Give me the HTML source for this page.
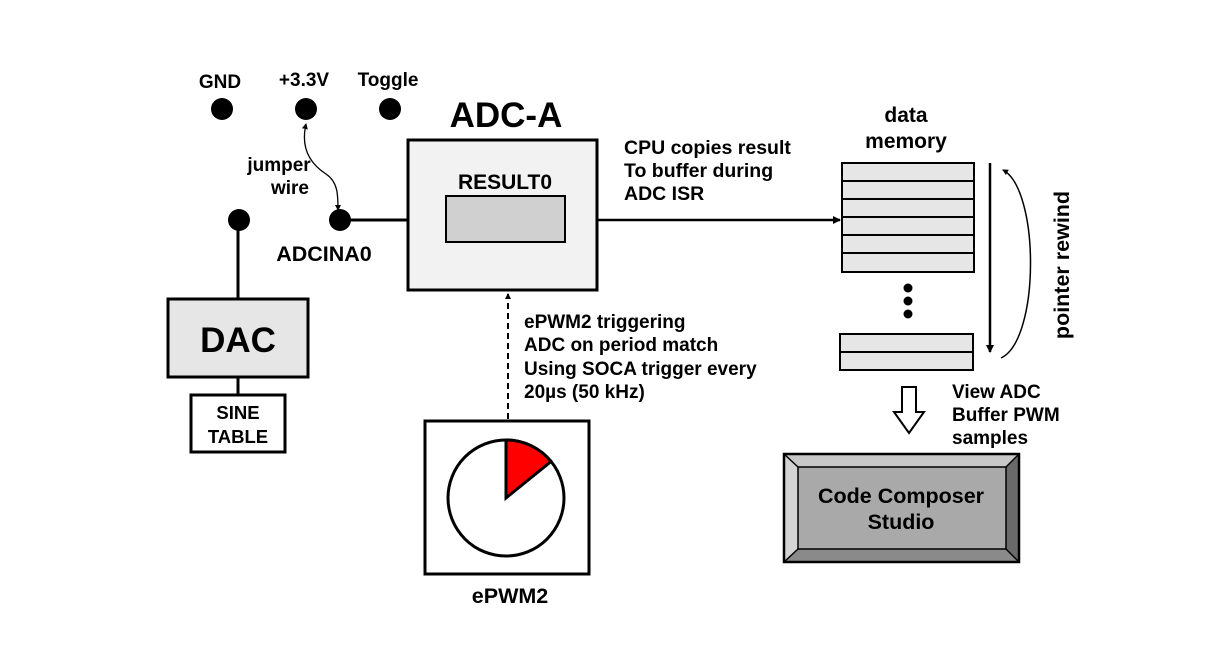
<!DOCTYPE html>
<html><head><meta charset="utf-8"><style>
html,body{margin:0;padding:0;background:#fff;}
svg{display:block;font-family:"Liberation Sans",Arial,sans-serif;font-weight:bold;}
</style></head><body>
<svg width="1227" height="651" viewBox="0 0 1227 651" xmlns="http://www.w3.org/2000/svg">
<defs>
<marker id="ah" markerWidth="8" markerHeight="8" refX="7" refY="4" orient="auto" markerUnits="userSpaceOnUse"><path d="M0,0 L8,4 L0,8 Z" fill="#000"/></marker>
<marker id="ahs" markerWidth="6" markerHeight="6" refX="5" refY="3" orient="auto-start-reverse" markerUnits="userSpaceOnUse"><path d="M0,0 L6,3 L0,6 Z" fill="#000"/></marker>
</defs>
<g font-size="19" text-anchor="middle">
<text x="220" y="88">GND</text>
<text x="304" y="86">+3.3V</text>
<text x="388" y="86">Toggle</text>
</g>
<circle cx="222" cy="109" r="11" fill="#000"/>
<circle cx="306" cy="109" r="11" fill="#000"/>
<circle cx="390" cy="109" r="11" fill="#000"/>
<path d="M306,124 C300,150 312,165 326,174 C338,182 338,195 338,210" fill="none" stroke="#000" stroke-width="1.3" marker-start="url(#ahs)" marker-end="url(#ahs)"/>
<text x="279" y="171" font-size="19" text-anchor="middle">jumper</text>
<text x="290" y="194" font-size="19" text-anchor="middle">wire</text>
<circle cx="239" cy="220" r="11" fill="#000"/>
<circle cx="340" cy="220" r="11" fill="#000"/>
<line x1="340" y1="220" x2="408" y2="220" stroke="#000" stroke-width="3"/>
<text x="324" y="261" font-size="21.5" text-anchor="middle">ADCINA0</text>
<line x1="238" y1="220" x2="238" y2="299" stroke="#000" stroke-width="3"/>
<rect x="168" y="299" width="140" height="78" fill="#e6e6e6" stroke="#000" stroke-width="3"/>
<text x="238" y="352" font-size="35" text-anchor="middle">DAC</text>
<line x1="238" y1="377" x2="238" y2="395" stroke="#000" stroke-width="3"/>
<rect x="191" y="395" width="94" height="57" fill="#fff" stroke="#000" stroke-width="3"/>
<text x="238" y="419" font-size="18.5" text-anchor="middle">SINE</text>
<text x="238" y="443" font-size="18.5" text-anchor="middle">TABLE</text>
<text x="506" y="127" font-size="35" text-anchor="middle">ADC-A</text>
<rect x="408" y="140" width="189" height="150" fill="#f2f2f2" stroke="#000" stroke-width="3"/>
<text x="505" y="189" font-size="21" text-anchor="middle">RESULT0</text>
<rect x="446" y="196" width="119" height="46" fill="#d0d0d0" stroke="#000" stroke-width="2"/>
<line x1="597" y1="220" x2="840" y2="220" stroke="#000" stroke-width="2.5" marker-end="url(#ah)"/>
<g font-size="19.5">
<text x="624" y="154">CPU copies result</text>
<text x="624" y="177">To buffer during</text>
<text x="624" y="200">ADC ISR</text>
</g>
<line x1="508" y1="419" x2="508" y2="294" stroke="#000" stroke-width="2" stroke-dasharray="6,4" marker-end="url(#ahs)"/>
<g font-size="19">
<text x="524" y="328">ePWM2 triggering</text>
<text x="524" y="351">ADC on period match</text>
<text x="524" y="375">Using SOCA trigger every</text>
<text x="524" y="398">20µs (50 kHz)</text>
</g>
<rect x="425" y="421" width="164" height="153" fill="#fff" stroke="#000" stroke-width="3"/>
<circle cx="506" cy="498" r="58" fill="#fff" stroke="#000" stroke-width="3"/>
<path d="M506,498 L506,440 A58,58 0 0 1 551,461.5 Z" fill="#ff0000" stroke="#000" stroke-width="3"/>
<text x="510" y="603" font-size="21.5" text-anchor="middle">ePWM2</text>
<text x="906" y="122" font-size="21" text-anchor="middle">data</text>
<text x="906" y="148" font-size="21" text-anchor="middle">memory</text>
<g fill="#e6e6e6" stroke="#000" stroke-width="2">
<rect x="842" y="163" width="132" height="18"/>
<rect x="842" y="181" width="132" height="18"/>
<rect x="842" y="199" width="132" height="18"/>
<rect x="842" y="217" width="132" height="18"/>
<rect x="842" y="235" width="132" height="18"/>
<rect x="842" y="253" width="132" height="19"/>
<rect x="840" y="334" width="133" height="18"/>
<rect x="840" y="352" width="133" height="18"/>
</g>
<circle cx="908" cy="288" r="4.5" fill="#000"/>
<circle cx="908" cy="301" r="4.5" fill="#000"/>
<circle cx="908" cy="314" r="4.5" fill="#000"/>
<line x1="990" y1="163" x2="990" y2="352" stroke="#000" stroke-width="2.5" marker-end="url(#ah)"/>
<path d="M1001,358 C1040,340 1040,190 1003,170" fill="none" stroke="#000" stroke-width="1.5" marker-end="url(#ahs)"/>
<text transform="translate(1069,265) rotate(-90)" font-size="21.5" text-anchor="middle">pointer rewind</text>
<path d="M902,387 L916,387 L916,412 L924,412 L909,433 L894,412 L902,412 Z" fill="#fff" stroke="#000" stroke-width="2"/>
<g font-size="19">
<text x="952" y="398">View ADC</text>
<text x="952" y="421">Buffer PWM</text>
<text x="952" y="444">samples</text>
</g>
<polygon points="784,454 1019,454 1006,467 798,467" fill="#c8c8c8"/>
<polygon points="784,454 798,467 798,549 784,562" fill="#d4d4d4"/>
<polygon points="1019,454 1019,562 1006,549 1006,467" fill="#6a6a6a"/>
<polygon points="784,562 798,549 1006,549 1019,562" fill="#8a8a8a"/>
<rect x="798" y="467" width="208" height="82" fill="#a9a9a9" stroke="#000" stroke-width="1.5"/>
<rect x="784" y="454" width="235" height="108" fill="none" stroke="#000" stroke-width="2.5"/>
<line x1="784" y1="454" x2="798" y2="467" stroke="#000" stroke-width="1.5"/>
<line x1="1019" y1="454" x2="1006" y2="467" stroke="#000" stroke-width="1.5"/>
<line x1="784" y1="562" x2="798" y2="549" stroke="#000" stroke-width="1.5"/>
<line x1="1019" y1="562" x2="1006" y2="549" stroke="#000" stroke-width="1.5"/>
<text x="901" y="503" font-size="21.5" text-anchor="middle">Code Composer</text>
<text x="901" y="529" font-size="21.5" text-anchor="middle">Studio</text>
</svg>
</body></html>
